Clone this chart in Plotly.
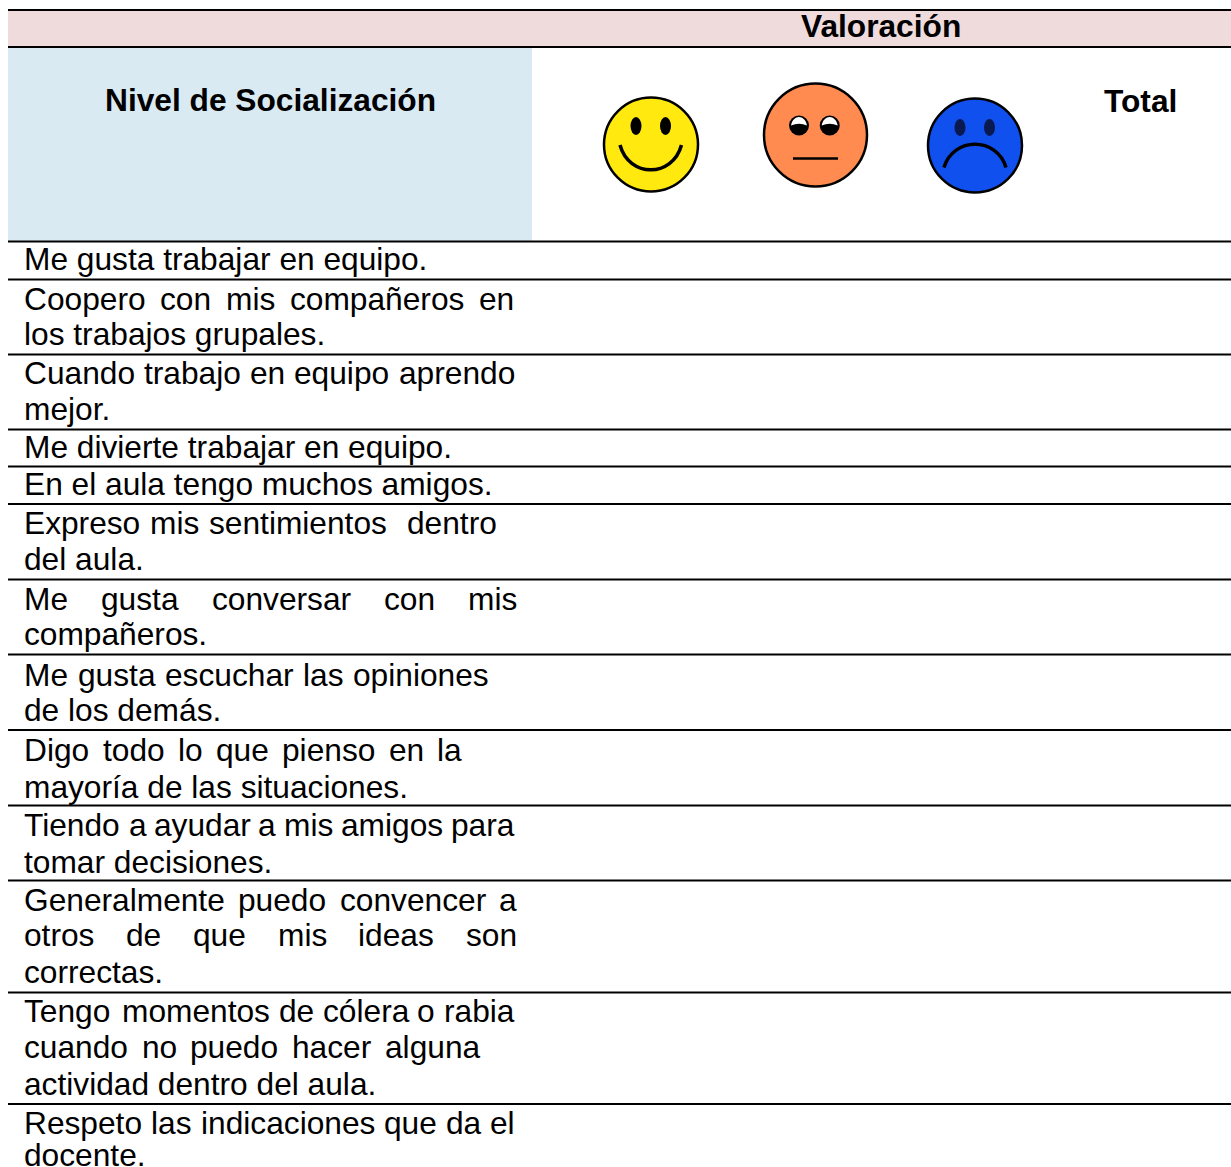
import plotly.graph_objects as go

FONT = "Liberation Sans"
SIZE = 31.7

header_group = "Valoración"
header_level = "Nivel de Socialización"
header_total = "Total"

rows = [
    ["Me gusta trabajar en equipo."],
    ["Coopero con mis compañeros en", "los trabajos grupales."],
    ["Cuando trabajo en equipo aprendo", "mejor."],
    ["Me divierte trabajar en equipo."],
    ["En el aula tengo muchos amigos."],
    ["Expreso mis sentimientos  dentro", "del aula."],
    ["Me gusta conversar con mis", "compañeros."],
    ["Me gusta escuchar las opiniones", "de los demás."],
    ["Digo todo lo que pienso en la", "mayoría de las situaciones."],
    ["Tiendo a ayudar a mis amigos para", "tomar decisiones."],
    ["Generalmente puedo convencer a", "otros de que mis ideas son", "correctas."],
    ["Tengo momentos de cólera o rabia", "cuando no puedo hacer alguna", "actividad dentro del aula."],
    ["Respeto las indicaciones que da el", "docente."],
]

# layout only: y of the rules, text baselines, right edges of justified lines
rule_y = [10, 47, 241.5, 279.5, 354.5, 429.5, 466.5, 504, 579.5, 654.5, 730, 805.5, 880.5, 992.5, 1104]
baselines = [[270], [310, 345], [384, 420], [458], [495], [534, 570], [610, 645], [686, 721],
             [761, 798], [836, 873], [911, 946, 983], [1022, 1058, 1095], [1134, 1165.5]]
right_edges = {
    "Coopero con mis compañeros en": 514, "Cuando trabajo en equipo aprendo": 515,
    "Expreso mis sentimientos  dentro": 497, "Me gusta conversar con mis": 517,
    "Me gusta escuchar las opiniones": 489, "Digo todo lo que pienso en la": 462,
    "Tiendo a ayudar a mis amigos para": 514, "Generalmente puedo convencer a": 517,
    "otros de que mis ideas son": 517, "Tengo momentos de cólera o rabia": 514,
    "cuando no puedo hacer alguna": 480, "Respeto las indicaciones que da el": 515,
}
LEFT = 24
ADV = {c: .556 for c in "abdeghnopquñó"}
ADV.update({"c": .5, "f": .278, "i": .222, "í": .222, "j": .222, "k": .5, "l": .222, "m": .833, "r": .333,
            "s": .5, "t": .278, "v": .5, "w": .722, "x": .5, "y": .5, "z": .5, "á": .556, ".": .278,
            "C": .722, "D": .722, "E": .667, "G": .778, "M": .833, "R": .722, "T": .611})


def word_w(w):
    return sum(ADV.get(c, .556) for c in w) * SIZE


anns = []


def text(x, base, s, bold=False, anchor="left"):
    t = f"<b>{s}</b>" if bold else s
    anns.append(dict(x=x, y=base - SIZE * 0.345, xref="x", yref="y", text=t, showarrow=False,
                     xanchor=anchor, yanchor="middle", borderpad=0, borderwidth=0,
                     font=dict(family=FONT, size=SIZE, color="#000000")))


for row, bases in zip(rows, baselines):
    for line, base in zip(row, bases):
        if line in right_edges:
            words = line.split(" ")
            gap = (right_edges[line] - LEFT - sum(word_w(w) for w in words)) / (len(words) - 1)
            x = LEFT
            for w in words:
                if w:
                    text(x, base, w)
                x += word_w(w) + gap
        else:
            text(LEFT, base, line)

text(881, 37, header_group, True, "center")
text(270, 111, header_level, True, "center")
text(1140.5, 112, header_total, True, "center")

shapes = [
    dict(type="rect", x0=8, x1=1231, y0=10, y1=47, fillcolor="#EFDBDB", line_width=0),
    dict(type="rect", x0=8, x1=532, y0=47, y1=241.5, fillcolor="#D9EAF2", line_width=0),
]
for y in rule_y:
    shapes.append(dict(type="line", x0=8, x1=1231, y0=y, y1=y, line=dict(color="#000000", width=2)))


def ell(cx, cy, rx, ry, fill, lw=0, lc="#000000"):
    return dict(type="circle", x0=cx - rx, x1=cx + rx, y0=cy - ry, y1=cy + ry, fillcolor=fill,
                line=dict(color=lc, width=lw))


def arc(x0, x1, y, d, w=3.5):
    return dict(type="path", path=f"M {x0} {y} C {x0 + 9} {y + d} {x1 - 9} {y + d} {x1} {y}",
                line=dict(color="#000000", width=w), fillcolor="rgba(0,0,0,0)")


# yellow face
shapes += [ell(651, 144.5, 47, 47, "#FFE90F", 2.5), ell(636, 126, 5.5, 9, "#000000"), ell(665.5, 126, 5.5, 9, "#000000"),
           arc(620, 681.5, 145, 33, 3.5)]
# orange face
shapes += [ell(815.5, 135, 51.5, 51.5, "#FF8B50", 2.5)]
for ex in (799, 829.7):
    shapes.append(ell(ex, 125.5, 10, 10, "#000000"))
    shapes.append(dict(type="path", path=f"M {ex - 8} {125.5} C {ex - 6} {114} {ex + 6} {114} {ex + 8} {125.5} "
                                         f"Q {ex} {122} {ex - 8} {125.5} Z",
                       fillcolor="#FFFFFF", line_width=0))
shapes.append(dict(type="line", x0=793, x1=838, y0=158.5, y1=158.5, line=dict(color="#000000", width=2.5)))
# blue face
shapes += [ell(975, 145.5, 47, 47, "#0F50EE", 2.5), ell(960, 127.5, 5.5, 8.5, "#0A1A50"), ell(989.5, 127.5, 5.5, 8.5, "#0A1A50"),
           arc(944, 1006, 167.5, -31, 3.5)]

fig = go.Figure(go.Scatter(x=[0, 1231], y=[0, 1167], mode="markers", marker=dict(opacity=0), hoverinfo="skip",
                           showlegend=False))
fig.update_layout(
    width=1231, height=1167, margin=dict(l=0, r=0, t=0, b=0, pad=0),
    paper_bgcolor="#FFFFFF", plot_bgcolor="#FFFFFF", shapes=shapes, annotations=anns,
    xaxis=dict(range=[0, 1231], visible=False, fixedrange=True),
    yaxis=dict(range=[1167, 0], visible=False, fixedrange=True),
)
fig.write_html("out.html", config=dict(displayModeBar=False),
               post_script="document.body.style.margin='0';document.body.style.overflow='hidden';")
